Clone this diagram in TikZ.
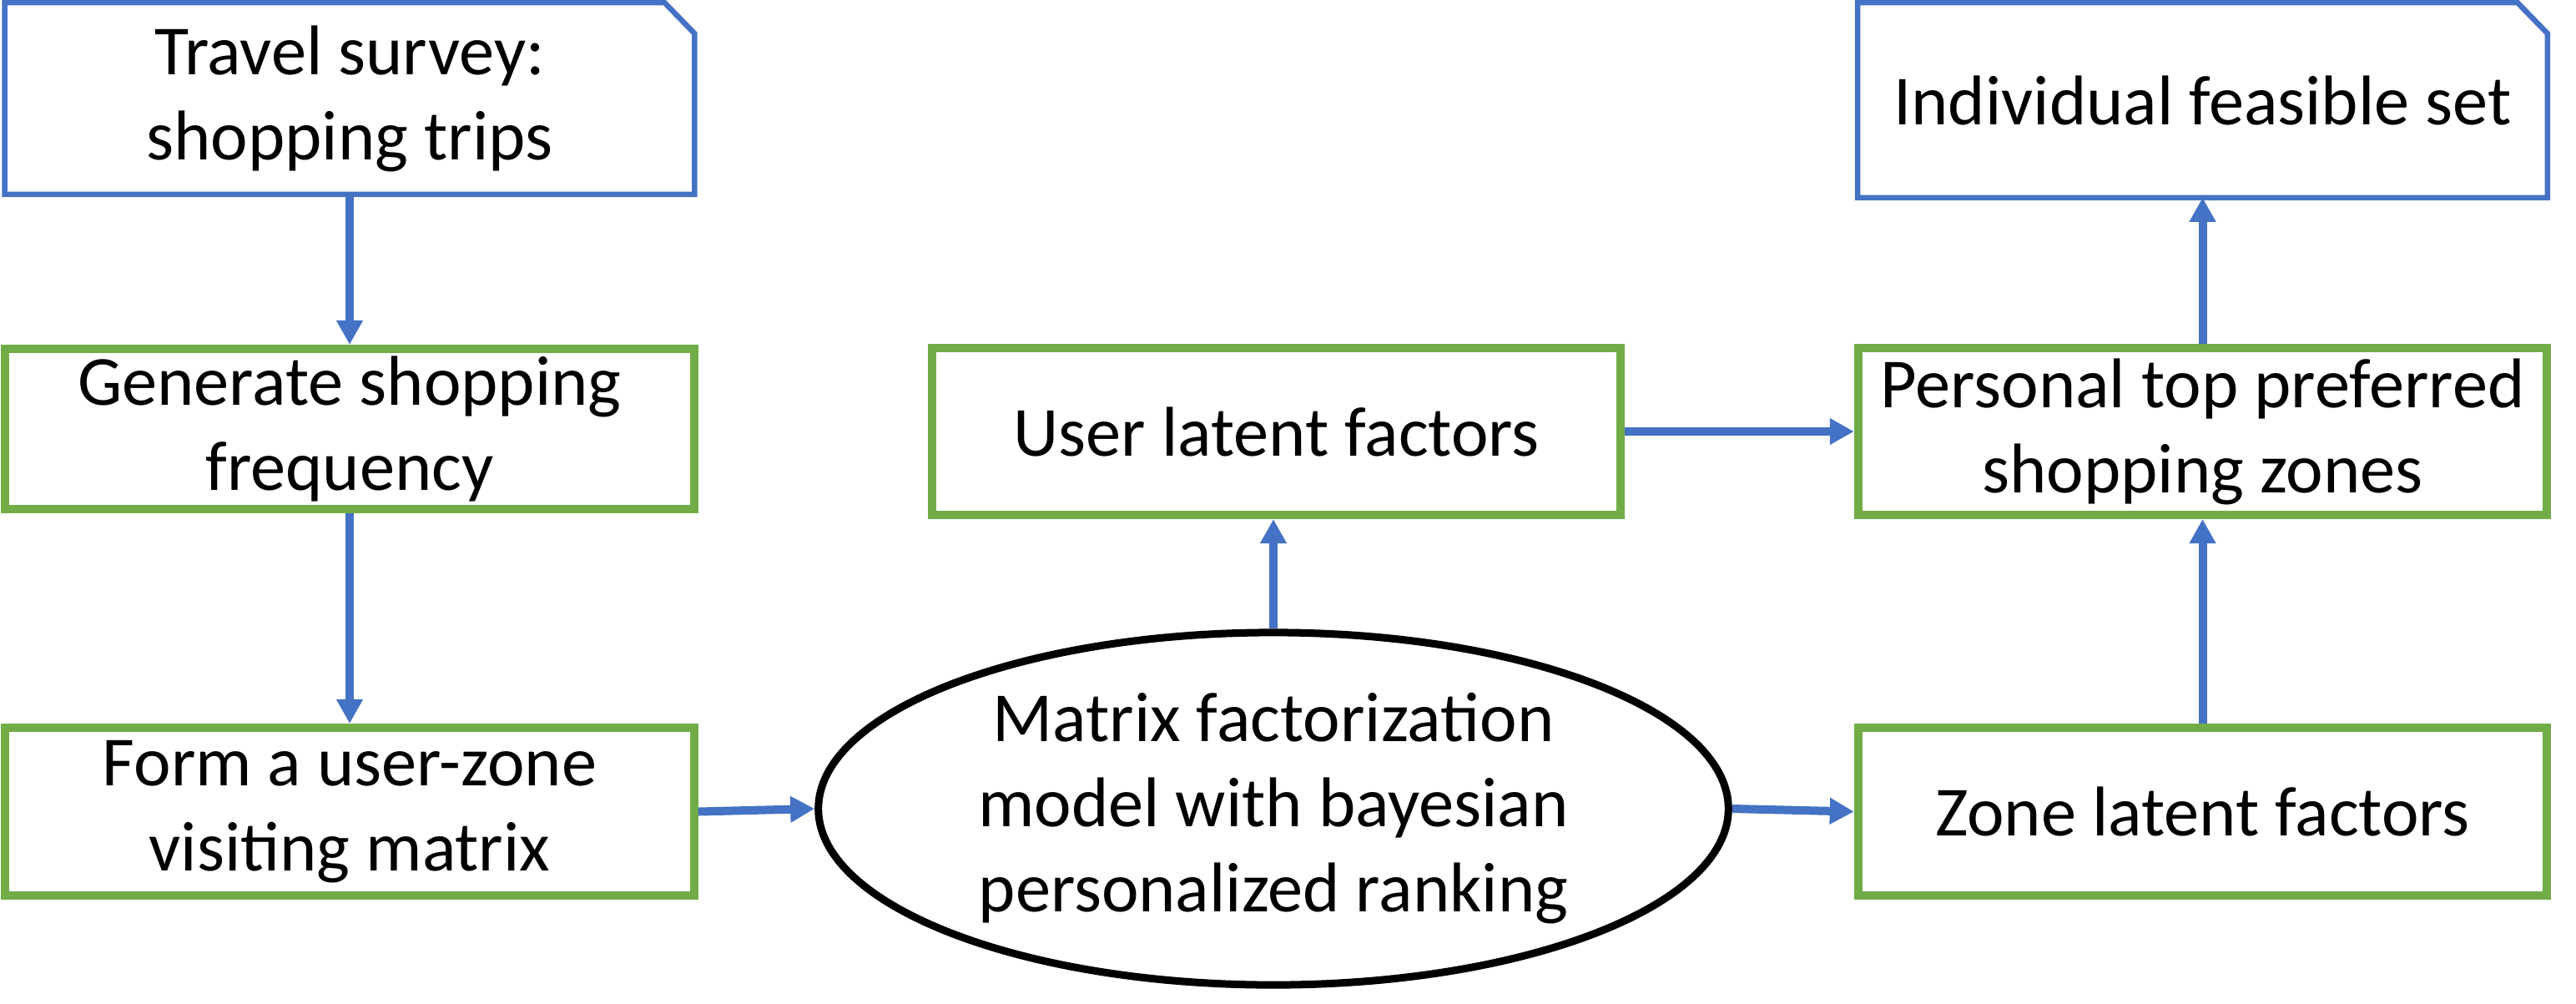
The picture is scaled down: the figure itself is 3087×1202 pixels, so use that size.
\documentclass[tikz,border=0pt]{standalone}
\usepackage{fontspec}
\setmainfont{Carlito}
\usetikzlibrary{shapes.geometric,arrows.meta}
\definecolor{oblue}{HTML}{4472C4}
\definecolor{ogreen}{HTML}{70AD47}
\begin{document}
\begin{tikzpicture}[x=0.01cm,y=-0.01cm,
  txt/.style={font=\fontsize{24}{29}\selectfont, align=center, inner sep=0pt},
  gbox/.style={txt, draw=ogreen, line width=0.1cm, minimum width=8.25cm, minimum height=#1},
  docbox/.style={txt, minimum width=8.25cm, minimum height=#1},
  arr/.style={draw=oblue, line width=0.1cm, -{Triangle[length=0.29cm,width=0.3cm]}},
  docline/.style={oblue, line width=0.065cm, line join=miter}
]
\useasboundingbox (0,0) rectangle (3087,1202);
% document-shaped boxes
\node[docbox=2.28cm] (survey) at (419,118) {Travel survey:\\shopping trips};
\draw[docline]
  (survey.north west) -- ([xshift=-0.36cm]survey.north east) -- ([yshift=-0.37cm]survey.north east)
  -- (survey.south east) -- (survey.south west) -- cycle;
\node[docbox=2.32cm] (indiv) at (2639.5,120) {Individual feasible set};
\draw[docline]
  (indiv.north west) -- ([xshift=-0.36cm]indiv.north east) -- ([yshift=-0.37cm]indiv.north east)
  -- (indiv.south east) -- (indiv.south west) -- cycle;
% green boxes
\node[gbox=1.92cm] (gen) at (419,514) {Generate shopping\\frequency};
\node[gbox=2.01cm] (form) at (419,972.5) {Form a user-zone\\visiting matrix};
\node[gbox=2.0cm] (user) at (1529.5,517) {User latent factors};
\node[gbox=2.0cm] (pers) at (2639.5,517) {Personal top preferred\\shopping zones};
\node[gbox=2.01cm] (zone) at (2639.5,972.5) {Zone latent factors};
% ellipse
\node[txt, ellipse, draw=black, line width=0.09cm, minimum width=10.9cm, minimum height=4.22cm] (mf) at (1526,969)
  {Matrix factorization\\model with bayesian\\personalized ranking};
% arrows
\draw[arr] (survey) -- (gen);
\draw[arr] (gen) -- (form);
\draw[arr] (form.east) -- (mf.west);
\draw[arr] (mf.north) -- (mf.north |- user.south);
\draw[arr] (user) -- (pers);
\draw[arr] (mf.east) -- (zone.west);
\draw[arr] (zone) -- (pers);
\draw[arr] (pers) -- (indiv);
\end{tikzpicture}
\end{document}
